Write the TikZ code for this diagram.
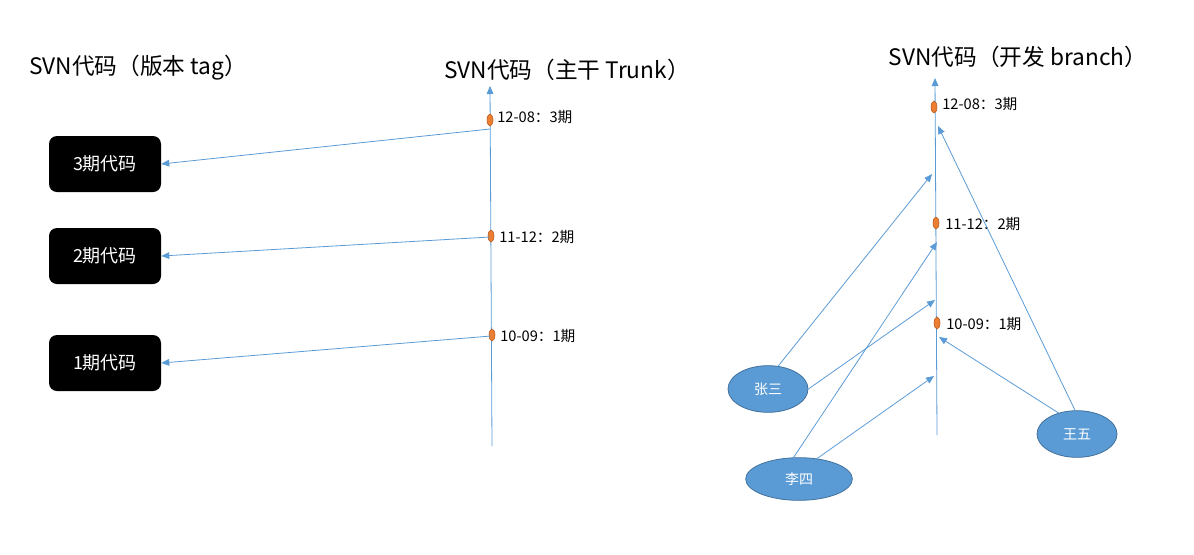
\documentclass[tikz,border=0pt]{standalone}
\usepackage{fontspec}
\setmainfont{Noto Sans CJK SC}
\usetikzlibrary{arrows.meta,shapes.geometric}
\definecolor{blu}{HTML}{5B9BD5}
\definecolor{bluedge}{HTML}{41719C}
\definecolor{org}{HTML}{ED7D31}
\definecolor{orgedge}{HTML}{AE5A21}
\tikzset{
  title/.style={font=\fontsize{17}{19}\selectfont, inner sep=0pt},
  lbl/.style={font=\fontsize{11}{13}\selectfont, anchor=west, inner sep=0pt},
  tagbox/.style={fill=black, rounded corners=6pt, minimum width=84pt, minimum height=42pt, text=white, font=\fontsize{13.5}{15}\selectfont, inner sep=0pt},
  person/.style={ellipse, fill=blu, draw=bluedge, line width=0.6pt, text=white, font=\fontsize{10.5}{12}\selectfont, inner sep=0pt},
  dot/.style={ellipse, fill=org, draw=orgedge, line width=0.4pt, minimum width=4.5pt, minimum height=9pt, inner sep=0pt},
  conn/.style={draw=blu, line width=0.6pt, -{Triangle[length=6pt,width=5pt]}},
}
\begin{document}
\begin{tikzpicture}[x=0.75pt,y=-0.75pt]
\useasboundingbox (0,0) rectangle (1194,554);
% titles
\node[title] (t1) at (138,68) {SVN代码（版本 tag）};
\node[title] (t2) at (567,70) {SVN代码（主干 Trunk）};
\node[title] (t3) at (1018,57) {SVN代码（开发 branch）};
% trunk
\coordinate (trb) at (492,446);
\coordinate (trt) at (490,86);
\draw[conn] (trb) -- (trt);
\node[dot] (d3) at (490,120) {};
\node[dot] (d2) at (491,236) {};
\node[dot] (d1) at (492,335) {};
\node[lbl] (l3) at (497,117) {12-08：3期};
\node[lbl] (l2) at (499,237) {11-12：2期};
\node[lbl] (l1) at (500,336) {10-09：1期};
% tag boxes
\node[tagbox] (b3) at (105,164) {3期代码};
\node[tagbox] (b2) at (105,256) {2期代码};
\node[tagbox] (b1) at (105,363) {1期代码};
\coordinate (s3) at (490,129);
\coordinate (s2) at (490,237);
\coordinate (s1) at (491,336);
\draw[conn] (s3) -- (b3.east);
\draw[conn] (s2) -- (b2.east);
\draw[conn] (s1) -- (b1.east);
% branch
\coordinate (brb) at (937,435);
\coordinate (brt) at (935,78);
\draw[conn] (brb) -- (brt);
\node[dot] (e3) at (934,107) {};
\node[dot] (e2) at (936,223) {};
\node[dot] (e1) at (937,323) {};
\node[lbl] (m3) at (942,104) {12-08：3期};
\node[lbl] (m2) at (945,224) {11-12：2期};
\node[lbl] (m1) at (946,324) {10-09：1期};
% people
\node[person, minimum width=60pt, minimum height=35pt] (zs) at (768,389) {张三};
\node[person, minimum width=80pt, minimum height=32pt] (ls) at (799,479) {李四};
\node[person, minimum width=60pt, minimum height=35pt] (ww) at (1077,434) {王五};
\coordinate (a1) at (932,174);
\coordinate (a2) at (935,300);
\coordinate (a3) at (937,242);
\coordinate (a4) at (934,376);
\coordinate (a5) at (939,337);
\coordinate (a6) at (938,126);
\draw[conn] (zs.north) ++(10,1) -- (a1);
\draw[conn] (zs.east) -- (a2);
\draw[conn] (ls.north) ++(-6,1) -- (a3);
\draw[conn] (ls.north) ++(17,2) -- (a4);
\draw[conn] (ww.north) ++(-18,3) -- (a5);
\draw[conn] (ww.north) ++(-2,0) -- (a6);
\end{tikzpicture}
\end{document}
